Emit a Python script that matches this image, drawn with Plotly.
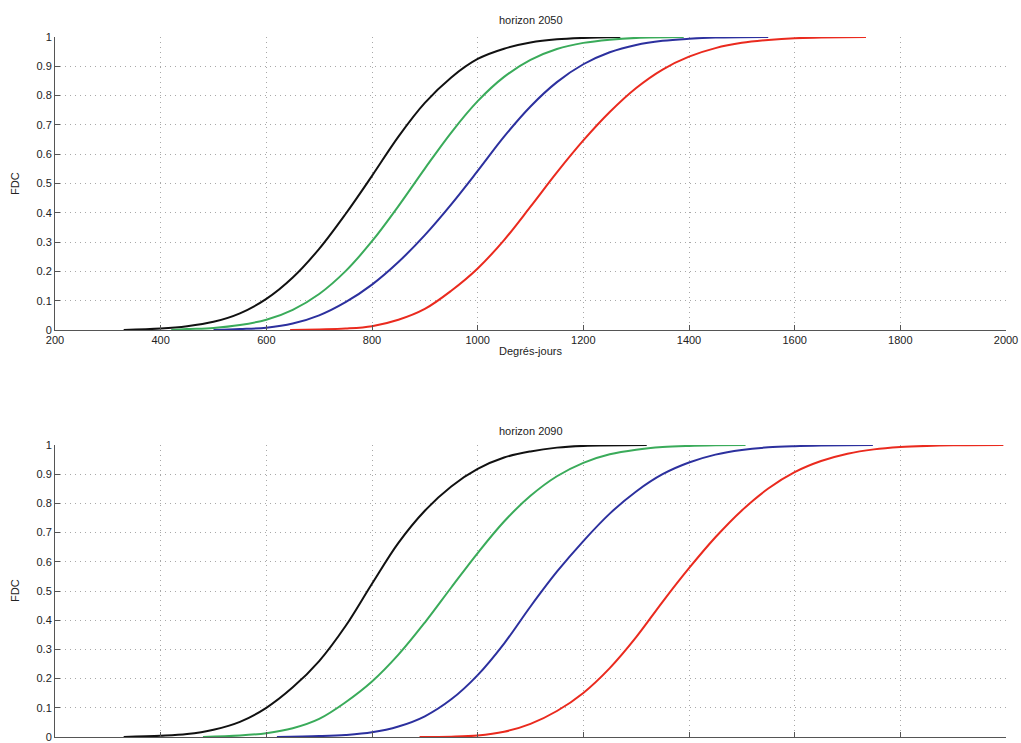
import plotly.graph_objects as go

# Cumulative distribution (FDC) of degree-days, horizon 2050
x50_black = [330, 400, 450, 500, 550, 600, 650, 700, 750, 800, 850, 900, 950, 1000, 1050, 1100, 1150, 1200, 1270]
y50_black = [0, 0.005, 0.013, 0.028, 0.057, 0.106, 0.179, 0.277, 0.396, 0.526, 0.66, 0.775, 0.862, 0.925, 0.96, 0.981, 0.992, 0.997, 1]

x50_green = [420, 450, 500, 550, 600, 650, 700, 750, 800, 850, 900, 950, 1000, 1050, 1100, 1150, 1200, 1250, 1300, 1390]
y50_green = [0, 0.003, 0.007, 0.017, 0.035, 0.069, 0.123, 0.201, 0.303, 0.423, 0.551, 0.674, 0.781, 0.864, 0.922, 0.959, 0.98, 0.991, 0.997, 1]

x50_blue = [500, 550, 600, 650, 700, 750, 800, 850, 900, 950, 1000, 1050, 1100, 1150, 1200, 1250, 1300, 1350, 1400, 1450, 1550]
y50_blue = [0, 0.003, 0.008, 0.022, 0.05, 0.095, 0.155, 0.232, 0.324, 0.429, 0.543, 0.66, 0.763, 0.846, 0.907, 0.948, 0.973, 0.987, 0.994, 0.998, 1]

x50_red = [645, 700, 750, 800, 850, 900, 950, 1000, 1050, 1100, 1150, 1200, 1250, 1300, 1350, 1400, 1450, 1500, 1550, 1600, 1650, 1735]
y50_red = [0, 0.002, 0.005, 0.013, 0.035, 0.072, 0.134, 0.21, 0.307, 0.421, 0.538, 0.647, 0.744, 0.826, 0.889, 0.933, 0.962, 0.98, 0.99, 0.996, 0.998, 1]

# Horizon 2090
x90_black = [330, 400, 450, 500, 550, 600, 650, 700, 750, 800, 850, 900, 950, 1000, 1050, 1100, 1150, 1200, 1320]
y90_black = [0, 0.004, 0.01, 0.025, 0.052, 0.1, 0.17, 0.26, 0.38, 0.525, 0.665, 0.775, 0.858, 0.918, 0.957, 0.978, 0.991, 0.997, 1]

x90_green = [480, 550, 600, 650, 700, 750, 800, 850, 900, 950, 1000, 1050, 1100, 1150, 1200, 1250, 1300, 1350, 1400, 1450, 1507]
y90_green = [0, 0.005, 0.013, 0.03, 0.062, 0.119, 0.19, 0.282, 0.392, 0.512, 0.63, 0.738, 0.826, 0.893, 0.939, 0.968, 0.984, 0.993, 0.997, 0.999, 1]

x90_blue = [620, 700, 750, 800, 850, 900, 950, 1000, 1050, 1100, 1150, 1200, 1250, 1300, 1350, 1400, 1450, 1500, 1550, 1600, 1650, 1748]
y90_blue = [0, 0.003, 0.007, 0.016, 0.036, 0.071, 0.129, 0.212, 0.32, 0.447, 0.566, 0.671, 0.765, 0.841, 0.9, 0.94, 0.967, 0.983, 0.992, 0.996, 0.998, 1]

x90_red = [890, 950, 1000, 1050, 1100, 1150, 1200, 1250, 1300, 1350, 1400, 1450, 1500, 1550, 1600, 1650, 1700, 1750, 1800, 1850, 1900, 1995]
y90_red = [0, 0.001, 0.005, 0.018, 0.045, 0.089, 0.151, 0.236, 0.342, 0.463, 0.578, 0.684, 0.776, 0.851, 0.907, 0.945, 0.97, 0.985, 0.993, 0.997, 0.999, 1]

x_ticks = [200, 400, 600, 800, 1000, 1200, 1400, 1600, 1800, 2000]
y_ticks = [0, 0.1, 0.2, 0.3, 0.4, 0.5, 0.6, 0.7, 0.8, 0.9, 1]
y_ticktext = ["0", "0.1", "0.2", "0.3", "0.4", "0.5", "0.6", "0.7", "0.8", "0.9", "1"]

colors = {"black": "#111111", "green": "#3aab5a", "blue": "#2c309e", "red": "#ea2a1e"}

FONT = "Liberation Sans, Arial, Helvetica, sans-serif"
W, H = 1021, 743

fig = go.Figure()

series = [
    ("x", "y", x50_black, y50_black, "black"),
    ("x", "y", x50_green, y50_green, "green"),
    ("x", "y", x50_blue, y50_blue, "blue"),
    ("x", "y", x50_red, y50_red, "red"),
    ("x2", "y2", x90_black, y90_black, "black"),
    ("x2", "y2", x90_green, y90_green, "green"),
    ("x2", "y2", x90_blue, y90_blue, "blue"),
    ("x2", "y2", x90_red, y90_red, "red"),
]
for xa, ya, xs, ys, c in series:
    fig.add_trace(go.Scatter(
        x=xs, y=ys, xaxis=xa, yaxis=ya, mode="lines",
        line=dict(color=colors[c], width=2, shape="spline", smoothing=1.0),
        showlegend=False, hoverinfo="skip",
    ))


def px_to_paper_y(py):
    return (H - py) / H


axis_common = dict(
    showline=True, linecolor="#555555", linewidth=1, mirror=False,
    ticks="inside", ticklen=5, tickwidth=1, tickcolor="#555555",
    showgrid=True, gridcolor="#a8a8a8", gridwidth=1, griddash="1px,4px",
    zeroline=False, automargin=False,
    tickfont=dict(family=FONT, size=11, color="#222222"),
)

xaxis_common = dict(axis_common, range=[200, 2000], tickvals=x_ticks, domain=[0, 1])
yaxis_common = dict(axis_common, range=[0, 1], tickvals=y_ticks, ticktext=y_ticktext)

fig.update_layout(
    width=W, height=H,
    margin=dict(l=55, r=15, t=0, b=0),
    paper_bgcolor="white", plot_bgcolor="white",
    font=dict(family=FONT, size=11, color="#222222"),
    xaxis=dict(xaxis_common, anchor="y"),
    yaxis=dict(yaxis_common, anchor="x",
               domain=[px_to_paper_y(330), px_to_paper_y(37)]),
    xaxis2=dict(xaxis_common, anchor="y2", showticklabels=False),
    yaxis2=dict(yaxis_common, anchor="x2",
                domain=[px_to_paper_y(737), px_to_paper_y(445)]),
)

label_font = dict(family=FONT, size=11, color="#222222")
plot_w = W - 55 - 15
fdc_x = (15 - 55) / plot_w

annotations = [
    dict(text="horizon 2050", x=0.5, y=px_to_paper_y(20)),
    dict(text="Degrés-jours", x=0.5, y=px_to_paper_y(351)),
    dict(text="horizon 2090", x=0.5, y=px_to_paper_y(431)),
    dict(text="FDC", x=fdc_x, y=px_to_paper_y(184), textangle=-90),
    dict(text="FDC", x=fdc_x, y=px_to_paper_y(591), textangle=-90),
]
for a in annotations:
    fig.add_annotation(xref="paper", yref="paper", showarrow=False,
                       xanchor="center", yanchor="middle", font=label_font, **a)

fig.write_html("out.html")
